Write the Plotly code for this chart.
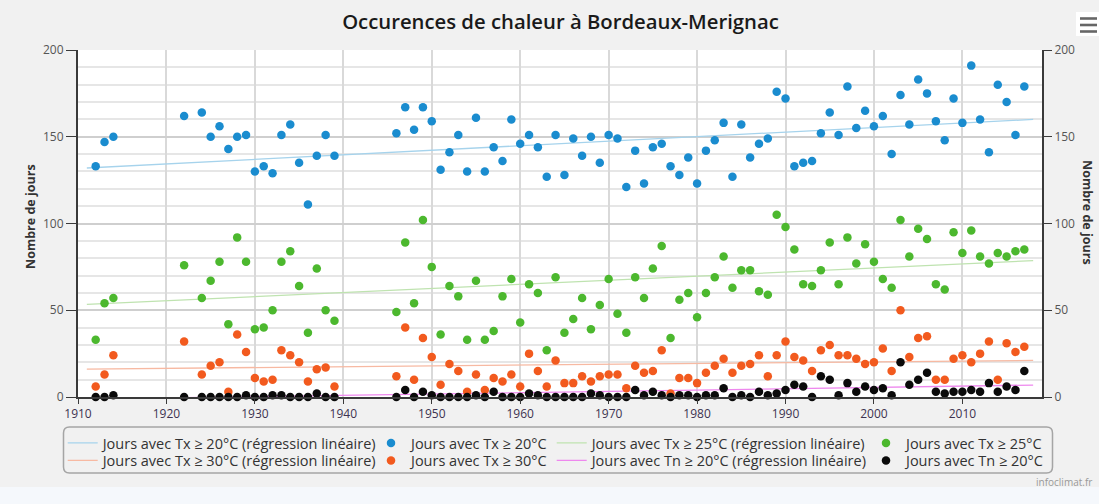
import plotly.graph_objects as go

# ---------------- data ----------------
years = [1912, 1913, 1914, 1922] + list(range(1924, 1940)) + list(range(1946, 2018))

tx20 = [133, 147, 150, 162, 164, 150, 156, 143, 150, 151, 130, 133, 129, 151, 157, 135, 111, 139, 151, 139,
        152, 167, 154, 167, 159, 131, 141, 151, 130, 161, 130, 144, 136, 160, 146, 151, 144, 127, 151, 128,
        149, 139, 150, 135, 151, 149, 121, 142, 123, 144, 146, 133, 128, 138, 123,
        142, 148, 158, 127, 157, 138, 146, 149, 176, 172, 133, 135, 136, 152, 164, 151, 179, 155, 165, 156,
        162, 140, 174, 157, 183, 175, 159, 148, 172, 158, 191, 160, 141, 180, 170, 151, 179]

tx25 = [33, 54, 57, 76, 57, 67, 78, 42, 92, 78, 39, 40, 50, 78, 84, 64, 37, 74, 50, 44,
        49, 89, 54, 102, 75, 36, 64, 58, 33, 67, 33, 38, 58, 68, 43, 65, 60, 27, 69, 37,
        45, 57, 39, 53, 68, 48, 37, 69, 57, 74, 87, 34, 56, 60, 46,
        60, 69, 81, 63, 73, 73, 61, 59, 105, 98, 85, 65, 64, 73, 89, 65, 92, 77, 88, 78,
        68, 63, 102, 81, 97, 91, 65, 62, 95, 83, 96, 81, 77, 83, 81, 84, 85]

tx30 = [6, 13, 24, 32, 13, 18, 20, 3, 36, 26, 11, 9, 10, 27, 24, 20, 9, 16, 17, 6,
        12, 40, 10, 34, 23, 7, 19, 15, 3, 13, 4, 11, 9, 13, 6, 25, 15, 6, 21, 8,
        8, 12, 9, 12, 13, 13, 5, 18, 14, 15, 27, 2, 11, 11, 8,
        14, 18, 22, 14, 18, 19, 24, 12, 24, 32, 23, 21, 15, 27, 30, 24, 24, 22, 19, 20,
        28, 15, 50, 23, 34, 35, 10, 10, 22, 24, 20, 25, 32, 10, 31, 26, 29]

tn20 = [0, 0, 1, 0, 0, 0, 0, 0, 0, 1, 0, 0, 1, 1, 0, 0, 0, 2, 0, 0,
        0, 4, 0, 3, 1, 0, 0, 0, 0, 1, 0, 3, 0, 0, 0, 2, 1, 0, 0, 0,
        0, 0, 2, 1, 0, 0, 0, 4, 1, 3, 1, 0, 1, 1, 0,
        1, 1, 5, 0, 1, 0, 3, 1, 2, 4, 7, 6, 0, 12, 10, 1, 8, 3, 6, 4,
        5, 1, 20, 7, 10, 14, 3, 2, 3, 3, 4, 3, 8, 3, 6, 4, 15]

# linear regression lines (end points)
reg_years = [1911, 2018]
reg_tx20 = [132.0, 160.0]
reg_tx25 = [53.4, 78.6]
reg_tx30 = [16.1, 21.1]
reg_tn20 = [-1.2, 6.9]

x_ticks = [1910, 1920, 1930, 1940, 1950, 1960, 1970, 1980, 1990, 2000, 2010]
y_ticks = [0, 50, 100, 150, 200]

names = {
    "tx20": "Jours avec Tx ≥ 20°C",
    "tx25": "Jours avec Tx ≥ 25°C",
    "tx30": "Jours avec Tx ≥ 30°C",
    "tn20": "Jours avec Tn ≥ 20°C",
}
REG = " (régression linéaire)"

# ---------------- style ----------------
FONT = "Open Sans"
W, H = 1099, 504
L, R, T, B = 78, 57, 50, 107
PW = W - L - R
PH = H - T - B


def px_x(px):
    return (px - L) / PW


def px_y(py):
    return (H - B - py) / PH


col_dot = {"tx20": "#1a8ccf", "tx25": "#4cb82e", "tx30": "#f25a1e", "tn20": "#0a0a0a"}
col_reg = {"tx20": "#a6d3ec", "tx25": "#bfe3b0", "tx30": "#f7b9a2", "tn20": "#ee88ee"}

# legend slot of each entry: (legend id, left px, top px)
COLS = [62.7, 371, 551.7, 866]
ROWS = [427, 444.5]
slots = {
    ("reg", "tx20"): ("legend", COLS[0], ROWS[0]),
    ("dot", "tx20"): ("legend2", COLS[1], ROWS[0]),
    ("reg", "tx25"): ("legend3", COLS[2], ROWS[0]),
    ("dot", "tx25"): ("legend4", COLS[3], ROWS[0]),
    ("reg", "tx30"): ("legend5", COLS[0], ROWS[1]),
    ("dot", "tx30"): ("legend6", COLS[1], ROWS[1]),
    ("reg", "tn20"): ("legend7", COLS[2], ROWS[1]),
    ("dot", "tn20"): ("legend8", COLS[3], ROWS[1]),
}

fig = go.Figure()

for key, vals in [("tx20", reg_tx20), ("tx25", reg_tx25), ("tx30", reg_tx30), ("tn20", reg_tn20)]:
    fig.add_trace(go.Scatter(
        x=reg_years, y=vals, mode="lines", name=names[key] + REG,
        line=dict(color=col_reg[key], width=1.3), legend=slots[("reg", key)][0], hoverinfo="skip"))

for key, vals in [("tx20", tx20), ("tx25", tx25), ("tx30", tx30), ("tn20", tn20)]:
    fig.add_trace(go.Scatter(
        x=years, y=vals, mode="markers", name=names[key],
        marker=dict(color=col_dot[key], size=8.5, line=dict(width=0)),
        legend=slots[("dot", key)][0], cliponaxis=False))

# invisible copy bound to the right-hand axis so that it gets its ticks
fig.add_trace(go.Scatter(x=years, y=tx20, yaxis="y2", mode="markers", marker=dict(opacity=0),
                         showlegend=False, hoverinfo="skip"))

legend_font = dict(family=FONT, size=14.5, color="#333333")
legends = {}
for (lid, lx, ly) in slots.values():
    legends[lid] = dict(x=px_x(lx), y=px_y(ly), xanchor="left", yanchor="top",
                        orientation="v", bgcolor="rgba(0,0,0,0)", borderwidth=0,
                        font=legend_font, itemwidth=30, tracegroupgap=0)

# legend frame (rounded rectangle)
x0, x1 = px_x(63.5), px_x(1052.5)
y0, y1 = px_y(473), px_y(427)
rx, ry = 6 / PW, 6 / PH
frame = (f"M {x0+rx},{y1} L {x1-rx},{y1} Q {x1},{y1} {x1},{y1-ry} "
         f"L {x1},{y0+ry} Q {x1},{y0} {x1-rx},{y0} L {x0+rx},{y0} "
         f"Q {x0},{y0} {x0},{y0+ry} L {x0},{y1-ry} Q {x0},{y1} {x0+rx},{y1} Z")

shapes = [
    # bottom light band
    dict(type="rect", xref="paper", yref="paper", x0=px_x(0), x1=px_x(W), y0=px_y(H), y1=px_y(487),
         fillcolor="#f5f8fc", line=dict(width=0), layer="below"),
    dict(type="path", xref="paper", yref="paper", path=frame,
         line=dict(color="#a5a5a5", width=1.5), fillcolor="rgba(0,0,0,0)"),
    # menu button
    dict(type="rect", xref="paper", yref="paper", x0=px_x(1076), x1=px_x(1099), y0=px_y(36), y1=px_y(12),
         fillcolor="#ffffff", line=dict(width=0)),
]
for cy in (18.5, 25, 31.5):
    shapes.append(dict(type="rect", xref="paper", yref="paper", x0=px_x(1080), x1=px_x(1097),
                       y0=px_y(cy + 1.3), y1=px_y(cy - 1.3), fillcolor="#666666", line=dict(width=0)))

axis_title_font = dict(family=FONT, size=12.5, color="#333333", weight="bold")
annotations = [
    dict(text="Nombre de jours", xref="paper", yref="paper", x=px_x(30), y=px_y(217),
         textangle=-90, showarrow=False, font=axis_title_font, xanchor="center", yanchor="middle"),
    dict(text="Nombre de jours", xref="paper", yref="paper", x=px_x(1088), y=px_y(212),
         textangle=90, showarrow=False, font=axis_title_font, xanchor="center", yanchor="middle"),
    dict(text="infoclimat.fr", xref="paper", yref="paper", x=px_x(1034), y=px_y(482),
         showarrow=False, xanchor="left", yanchor="middle",
         font=dict(family=FONT, size=10, color="#999999")),
]

fig.update_layout(
    width=W, height=H,
    margin=dict(l=L, r=R, t=T, b=B, pad=0),
    paper_bgcolor="#f1f1f1",
    plot_bgcolor="#ffffff",
    font=dict(family=FONT, size=12, color="#444444"),
    title=dict(text="Occurences de chaleur à Bordeaux-Merignac",
               x=560.5 / W, xref="container", xanchor="center",
               y=1 - 22 / H, yref="container", yanchor="middle",
               font=dict(family=FONT, size=20.3, color="#1a1a1a", weight=600)),
    showlegend=True,
    xaxis=dict(range=[1910, 2019], tickvals=x_ticks, ticktext=[str(v) for v in x_ticks],
               showgrid=True, gridcolor="#d9d9d9", gridwidth=1.5,
               showline=True, linecolor="#3a3a3a", linewidth=2,
               ticks="outside", ticklen=5, tickcolor="#3a3a3a", tickwidth=1,
               tickfont=dict(family=FONT, size=12, color="#3d3350"),
               zeroline=False, fixedrange=True),
    yaxis=dict(range=[0, 200], tickvals=y_ticks, showgrid=True, gridcolor="#cfcfcf", gridwidth=1.5,
               minor=dict(dtick=10, showgrid=True, gridcolor="#e6e6e6", gridwidth=1.5),
               showline=True, linecolor="#3a3a3a", linewidth=2,
               ticks="outside", ticklen=10, tickcolor="#3a3a3a", tickwidth=1,
               tickfont=dict(family=FONT, size=12, color="#555555"),
               zeroline=False, fixedrange=True),
    yaxis2=dict(range=[0, 200], tickvals=y_ticks, overlaying="y", side="right", anchor="x",
                showgrid=False, showline=True, linecolor="#3a3a3a", linewidth=2,
                ticks="outside", ticklen=8, tickcolor="#3a3a3a", tickwidth=1,
                tickfont=dict(family=FONT, size=12, color="#555555"),
                zeroline=False, fixedrange=True),
    shapes=shapes,
    annotations=annotations,
    **legends,
)

fig.write_html("out.html", config={"displayModeBar": False},
               post_script="document.body.style.margin='0';document.body.style.overflow='hidden';")
